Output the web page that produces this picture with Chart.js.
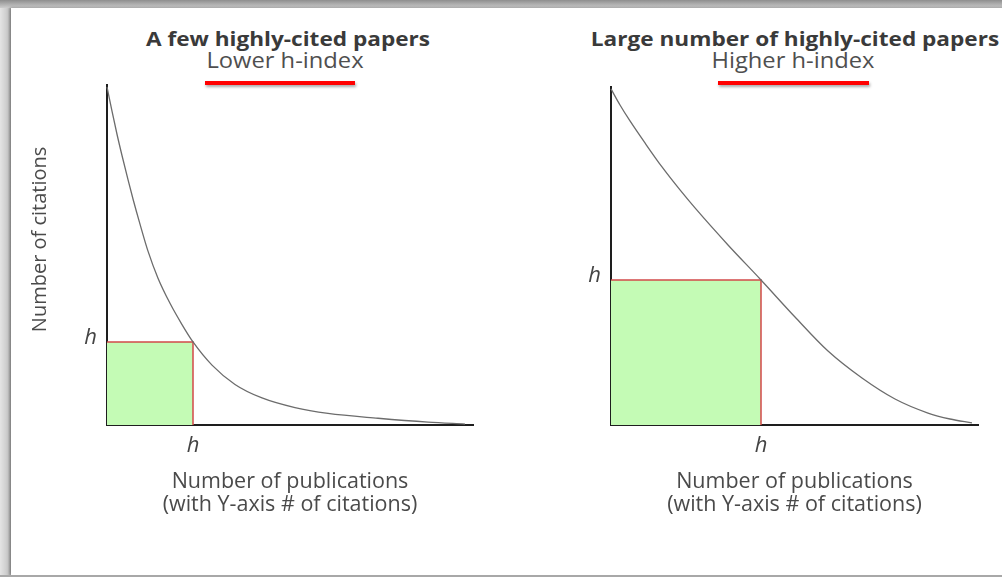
<!DOCTYPE html>
<html>
<head>
<meta charset="utf-8">
<script src="https://cdn.jsdelivr.net/npm/chart.js@4/dist/chart.umd.min.js"></script>
<style>
html,body{margin:0;padding:0;}
body{width:1002px;height:577px;overflow:hidden;position:relative;background:linear-gradient(#8e8e8e 0px,#cdcdcd 8px,#c8c8c8 100%);font-family:'Open Sans',sans-serif;}
#leftshade{position:absolute;left:0;top:8px;width:11px;height:569px;background:linear-gradient(90deg,#e4e4e4,#c9c9c9 70%,#a9a9a9);}
#sheet{position:absolute;left:11px;top:8px;width:1100px;height:567px;background:#fff;box-shadow:-1px 0 3px rgba(0,0,0,.35);}
#bottomline{position:absolute;left:0;top:575px;width:1002px;height:2px;background:#a8a8a8;}
.ttl{position:absolute;font-weight:700;color:#3a3a3a;font-size:20px;line-height:20px;white-space:nowrap;transform:translateX(-50%) scaleX(1.13);}
.sub{position:absolute;font-weight:400;color:#4f4f4f;font-size:21px;line-height:21px;white-space:nowrap;transform:translateX(-50%) scaleX(1.13);}
.bar{position:absolute;height:4px;background:#ff0000;box-shadow:1px 2px 3px rgba(0,0,0,.35);}
.box{position:absolute;top:0;height:577px;}
</style>
</head>
<body>
<div id="leftshade"></div>
<div id="sheet"></div>
<div id="bottomline"></div>

<div class="ttl" style="left:288px;top:29px;">A few highly-cited papers</div>
<div class="sub" style="left:285px;top:50px;">Lower h-index</div>
<div class="bar" style="left:205px;top:81px;width:150px;"></div>

<div class="ttl" style="left:795px;top:29px;">Large number of highly-cited papers</div>
<div class="sub" style="left:793px;top:50px;">Higher h-index</div>
<div class="bar" style="left:718px;top:81px;width:151px;"></div>

<div class="box" style="left:0;width:520px;"><canvas id="c1" width="520" height="577"></canvas></div>
<div class="box" style="left:520px;width:482px;"><canvas id="c2" width="482" height="577"></canvas></div>

<script>
// ---- data ----
const leftPublications = [0, 0.5, 1.0, 1.5, 2.1, 2.6, 3.3, 4.1, 5.1, 6.3, 7.5, 8.6, 10.5, 12.8, 15.5, 18.8, 22.1, 27.1, 32.1, 35.8];
const leftCitations    = [35.0, 32.5, 30.1, 27.9, 25.4, 23.4, 20.8, 18.0, 15.2, 12.6, 10.4, 8.6, 6.2, 4.2, 2.8, 1.8, 1.2, 0.7, 0.3, 0.1];
const leftH = 8.6;

const rightPublications = [0, 0.9, 1.9, 3.4, 5.1, 6.9, 8.4, 11.7, 15.0, 18.4, 21.7, 25.1, 28.4, 31.7, 33.9, 36.1];
const rightCitations    = [34.76, 33.1, 31.45, 29.17, 26.69, 24.31, 22.45, 18.62, 15.0, 11.17, 7.65, 4.86, 2.69, 1.24, 0.62, 0.21];
const rightH = 15.0;

const hTickLabels = ['h'];
const yAxisTitle = 'Number of citations';
const xAxisTitle = ['Number of publications', '(with Y-axis # of citations)'];

Chart.defaults.font.family = "'Open Sans', sans-serif";
Chart.defaults.color = '#4a4a4a';

function pts(xs, ys) { return xs.map((x, i) => ({x: x, y: ys[i]})); }

function makeChart(id, pubs, cites, h, xMax, yMax, withYTitle, pad, yWidth) {
  return new Chart(document.getElementById(id), {
    type: 'scatter',
    data: {
      datasets: [
        {
          label: 'citations',
          data: pts(pubs, cites),
          showLine: true,
          borderColor: '#6c6c6c',
          borderWidth: 1.3,
          pointRadius: 0,
          cubicInterpolationMode: 'monotone',
          fill: false,
          clip: false
        },
        {
          label: 'h square',
          data: [{x: 0, y: h}, {x: h, y: h}, {x: h, y: 0}],
          showLine: true,
          borderColor: '#d24a4a',
          borderWidth: 1.5,
          backgroundColor: 'rgb(196,251,181)',
          fill: 'origin',
          tension: 0,
          pointRadius: 0
        }
      ]
    },
    options: {
      responsive: false,
      animation: false,
      devicePixelRatio: 1,
      layout: { padding: pad },
      plugins: { legend: { display: false }, tooltip: { enabled: false } },
      scales: {
        x: {
          type: 'linear',
          min: 0, max: xMax,
          grid: { display: false, drawTicks: false },
          border: { display: true, color: '#1e1e1e', width: 2 },
          afterBuildTicks: s => { s.ticks = [{value: h}]; },
          afterFit: s => { s.height = 100; },
          ticks: {
            callback: () => hTickLabels[0],
            padding: 8,
            color: '#444',
            font: { size: 22, style: 'italic', lineHeight: 1.2 }
          },
          title: {
            display: true,
            text: xAxisTitle,
            color: '#4a4a4a',
            font: { size: 21.5, lineHeight: 1.07 },
            padding: { top: 0, bottom: 9 }
          }
        },
        y: {
          type: 'linear',
          min: 0, max: yMax,
          grid: { display: false, drawTicks: false },
          border: { display: true, color: '#1e1e1e', width: 2 },
          afterBuildTicks: s => { s.ticks = [{value: h}]; },
          afterFit: s => { s.width = yWidth; },
          ticks: {
            callback: () => hTickLabels[0],
            padding: 10,
            labelOffset: -4,
            color: '#444',
            font: { size: 22, style: 'italic', lineHeight: 1.2 }
          },
          title: {
            display: withYTitle,
            text: '      ' + yAxisTitle,
            color: '#4a4a4a',
            font: { size: 20, lineHeight: 1.2 },
            padding: { top: 1, bottom: 0 }
          }
        }
      }
    }
  });
}

makeChart('c1', leftPublications, leftCitations, leftH, 36.6, 35.2, true,
  { left: 27, right: 47, top: 85, bottom: 52 }, 80);
makeChart('c2', rightPublications, rightCitations, rightH, 36.7, 34.96, false,
  { left: 51, right: 24, top: 87, bottom: 52 }, 40);
</script>
</body>
</html>
